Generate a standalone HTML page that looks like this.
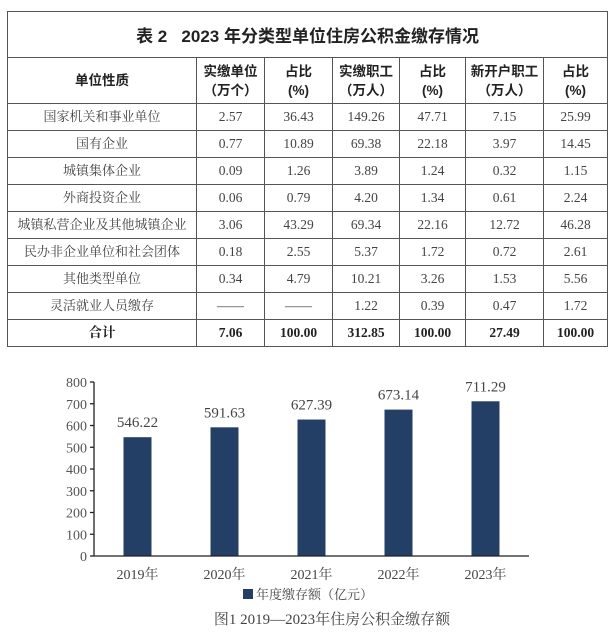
<!DOCTYPE html>
<html><head><meta charset="utf-8">
<style>
body{margin:0;width:614px;height:632px;background:#fff;overflow:hidden;position:relative;font-family:"Liberation Serif","Noto Serif CJK SC",serif;color:#333}
table{position:absolute;left:7px;top:11px;border-collapse:collapse;width:600px;table-layout:fixed}
td{border:1.5px solid #555;text-align:center;font-size:13.5px;padding:0;color:#444;white-space:nowrap;overflow:hidden}
.t{height:45px;font-family:"Liberation Sans","Noto Sans CJK SC",sans-serif;font-weight:bold;font-size:17px;color:#222}
.h td{height:45px;font-family:"Liberation Sans","Noto Sans CJK SC",sans-serif;font-weight:bold;font-size:13.5px;color:#222;line-height:19px}
.r td{height:26px;line-height:26px}
.r td:first-child{font-size:13px}
.s td{font-weight:bold;color:#222;height:26px;line-height:26px}
svg{position:absolute;left:0;top:360px}
</style></head><body>
<table>
<colgroup><col style="width:189px"><col style="width:68px"><col style="width:68px"><col style="width:67px"><col style="width:66px"><col style="width:78px"><col style="width:64px"></colgroup>
<tr><td class="t" colspan="7">表 2&nbsp;&nbsp;&nbsp;2023 年分类型单位住房公积金缴存情况</td></tr>
<tr class="h"><td>单位性质</td><td>实缴单位<br>（万个）</td><td>占比<br>(%)</td><td>实缴职工<br>（万人）</td><td>占比<br>(%)</td><td>新开户职工<br>（万人）</td><td>占比<br>(%)</td></tr>
<tr class="r"><td>国家机关和事业单位</td><td>2.57</td><td>36.43</td><td>149.26</td><td>47.71</td><td>7.15</td><td>25.99</td></tr>
<tr class="r"><td>国有企业</td><td>0.77</td><td>10.89</td><td>69.38</td><td>22.18</td><td>3.97</td><td>14.45</td></tr>
<tr class="r"><td>城镇集体企业</td><td>0.09</td><td>1.26</td><td>3.89</td><td>1.24</td><td>0.32</td><td>1.15</td></tr>
<tr class="r"><td>外商投资企业</td><td>0.06</td><td>0.79</td><td>4.20</td><td>1.34</td><td>0.61</td><td>2.24</td></tr>
<tr class="r"><td>城镇私营企业及其他城镇企业</td><td>3.06</td><td>43.29</td><td>69.34</td><td>22.16</td><td>12.72</td><td>46.28</td></tr>
<tr class="r"><td>民办非企业单位和社会团体</td><td>0.18</td><td>2.55</td><td>5.37</td><td>1.72</td><td>0.72</td><td>2.61</td></tr>
<tr class="r"><td>其他类型单位</td><td>0.34</td><td>4.79</td><td>10.21</td><td>3.26</td><td>1.53</td><td>5.56</td></tr>
<tr class="r"><td>灵活就业人员缴存</td><td>——</td><td>——</td><td>1.22</td><td>0.39</td><td>0.47</td><td>1.72</td></tr>
<tr class="s"><td>合计</td><td>7.06</td><td>100.00</td><td>312.85</td><td>100.00</td><td>27.49</td><td>100.00</td></tr>
</table>
<svg id="chart" width="614" height="272"></svg>
<script>
const categories=["2019年","2020年","2021年","2022年","2023年"];
const values=[546.22,591.63,627.39,673.14,711.29];
const valueLabels=["546.22","591.63","627.39","673.14","711.29"];
const yTicks=[0,100,200,300,400,500,600,700,800];
const NS="http://www.w3.org/2000/svg";
const svg=document.getElementById("chart");
const x0=94,x1=529,yTop=22,yBot=196,yMax=800;
const band=(x1-x0)/categories.length;
const xc=i=>x0+band*(i+0.5);
const y=v=>yBot-(v/yMax)*(yBot-yTop);
function mk(tag,attrs,txt){const e=document.createElementNS(NS,tag);for(const k in attrs)e.setAttribute(k,attrs[k]);if(txt!==undefined)e.textContent=txt;svg.appendChild(e);return e;}
const ff='"Liberation Serif","Noto Serif CJK SC",serif';
yTicks.forEach(t=>{
  const tk=mk("line",{x1:x0-4,x2:x0,y1:y(t),y2:y(t),stroke:"#222","stroke-width":1.3});
  
  
  const lb=mk("text",{x:x0-7,y:y(t)+5,"text-anchor":"end","font-size":14,fill:"#555","font-family":ff},t);
  
  
});
const ya=mk("line",{x1:x0,x2:x0,y1:yTop,y2:yBot,stroke:"#222","stroke-width":1.3});


values.forEach((v,i)=>{
  const w=28;
  const b=mk("rect",{x:xc(i)-w/2,y:y(v),width:w,height:yBot-y(v),fill:"#243f66"});
  
  
  const vl=mk("text",{x:xc(i),y:y(v)-10,"text-anchor":"middle","font-size":15,fill:"#444","font-family":ff},valueLabels[i]);
  
  
  const cl=mk("text",{x:xc(i),y:yBot+23,"text-anchor":"middle","font-size":14,fill:"#444","font-family":ff},categories[i]);
  
  
});
const xa=mk("line",{x1:x0,x2:x1,y1:yBot,y2:yBot,stroke:"#222","stroke-width":1.3});


const ls=mk("rect",{x:243,y:229,width:10,height:10,fill:"#243f66"});


const lt=mk("text",{x:256,y:239,"font-size":13,fill:"#444","font-family":ff},"年度缴存额（亿元）");


const cap=mk("text",{x:332,y:264,"text-anchor":"middle","font-size":15,fill:"#444","font-family":ff},"图1 2019—2023年住房公积金缴存额");


</script>
</body></html>
